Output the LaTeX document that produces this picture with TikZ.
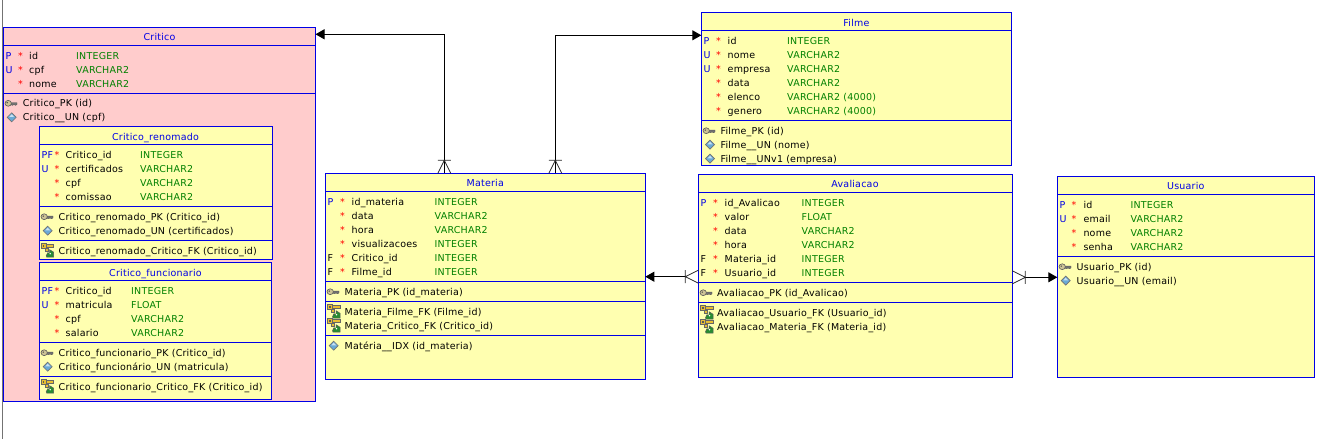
\documentclass[tikz,border=0pt]{standalone}
\usepackage{fontspec}
\setmainfont[LetterSpace=2.3]{DejaVu Sans}
\usetikzlibrary{arrows.meta}
\definecolor{erblue}{RGB}{0,0,230}
\definecolor{ergreen}{RGB}{0,128,0}
\definecolor{eryellow}{RGB}{255,255,176}
\definecolor{erpink}{RGB}{255,204,204}
\definecolor{ergold}{RGB}{232,190,50}
\definecolor{erkey}{RGB}{205,195,150}
\definecolor{erdiamond}{RGB}{105,170,215}
\definecolor{erleaf}{RGB}{40,140,50}
\newcommand{\bl}[1]{\textcolor{erblue}{#1}}
\tikzset{
	tablebox/.style={draw=erblue,line width=1pt,rectangle,anchor=north west,inner sep=0pt,outer sep=0pt,fill=eryellow},
	divider/.style={draw=erblue,line width=1pt},
	rowtext/.style={anchor=base west,inner sep=0pt,yshift=-3.4pt,font=\fontsize{9.5}{11}\selectfont},
	startext/.style={rowtext,text=red},
	typetext/.style={rowtext,text=ergreen},
	tabletitle/.style={rowtext,anchor=base,text=erblue},
	relline/.style={draw=black,line width=1pt},
	reltip/.style={-{Triangle[length=9pt,width=10pt]}},
	crowfoot/.pic={
		\draw[line width=.8pt,black!85] (-6.5,-13) -- (6.5,-13) (0,-13) -- (-6.5,0) (0,-13) -- (6.5,0);
	},
	pkicon/.pic={
		\filldraw[draw=black!65,fill=black!55,line width=.4pt] (-1.5,-.6) -- (6,-.6) -- (6,1.2) -- (4.5,2) -- (3,1.2) -- (1.5,2) -- (0,1.4) -- (-1.5,1.6) -- cycle;
		\filldraw[draw=black!65,fill=erkey,line width=.6pt] (-2.8,0) ellipse (3.2 and 2.9);
		\fill[black!70] (-3.8,-.6) circle (.8);
	},
	uqicon/.pic={
		\filldraw[draw=black!55,fill=erdiamond,line width=.7pt] (-4.5,0) -- (0,-4.5) -- (4.5,0) -- (0,4.5) -- cycle;
		\fill[white,opacity=.65] (-2.4,-.4) -- (0,-3) -- (2.4,-.4) -- cycle;
	},
	fkicon/.pic={
		\filldraw[draw=black!60,fill=ergold,line width=.6pt] (-6.5,-7) rectangle (-1.5,-2.5);
		\fill[black!65] (-5,-5.5) rectangle (-3.4,-4);
		\filldraw[draw=black!60,fill=ergold,line width=.6pt] (-1.5,-6) -- (6,-6) -- (6,-3.5) -- (-1.5,-3.5) -- cycle;
		\filldraw[draw=black!60,fill=ergold,line width=.6pt] (-2.5,-2.5) rectangle (.5,1);
		\filldraw[draw=black!65,fill=erleaf,line width=.5pt] (-1.5,5) -- (0,2) -- (2,2.5) -- (2,-1) -- (6,1.5) -- (6,6.5) -- (-1,6.5) -- cycle;
		\fill[white] (2.5,3) circle (.8);
	},
}
\begin{document}
\begin{tikzpicture}[x=1pt,y=-1pt]
	\useasboundingbox (0,0) rectangle (1322,439);
	\coordinate (marginTop) at (2.3,0);
	\coordinate (marginBottom) at (2.3,439);
	\draw[black!55,line width=1pt] (marginTop) -- (marginBottom);

	% CRITICO
	\node[tablebox,fill=erpink,minimum width=312pt,minimum height=374pt] (critico) at (3.5,27.3) {};
	\foreach \y in {45.3,93.3} {
		\draw[divider] (critico.west |- 0,\y) -- (critico.east |- 0,\y);
	}
	\node[tabletitle] (criticoTitle) at (159.5,37.4) {Critico};
	\foreach \flag/\colname/\coltype [count=\i from 0] in {\bl{P}/id/INTEGER,\bl{U}/cpf/VARCHAR2,/nome/VARCHAR2} {
		\node[rowtext] (criticoFlag\i) at (5.5,55.7+14*\i) {\flag};
		\node[startext] (criticoStar\i) at (18,55.7+14*\i) {*};
		\node[rowtext] (criticoName\i) at (29,55.7+14*\i) {\colname};
		\node[typetext] (criticoType\i) at (76,55.7+14*\i) {\coltype};
	}
	\pic at (11,103.3) {pkicon};
	\node[rowtext] (criticoPk) at (22.7,103.3) {Critico\_PK (id)};
	\pic at (11.7,117.3) {uqicon};
	\node[rowtext] (criticoUn) at (22.7,117.3) {Critico\_\_UN (cpf)};

	% CRITICO RENOMADO
	\node[tablebox,minimum width=233.4pt,minimum height=132.6pt] (renomado) at (39.3,126.7) {};
	\foreach \y in {144.7,206.3,240.3} {
		\draw[divider] (renomado.west |- 0,\y) -- (renomado.east |- 0,\y);
	}
	\node[tabletitle] (renomadoTitle) at (155.5,136.7) {Critico\_renomado};
	\foreach \flag/\colname/\coltype [count=\i from 0] in {\bl{PF}/Critico\_id/INTEGER,\bl{U}/certificados/VARCHAR2,/cpf/VARCHAR2,/comissao/VARCHAR2} {
		\node[rowtext] (renomadoFlag\i) at (41.5,154.7+14*\i) {\flag};
		\node[startext] (renomadoStar\i) at (54.5,154.7+14*\i) {*};
		\node[rowtext] (renomadoName\i) at (65.5,154.7+14*\i) {\colname};
		\node[typetext] (renomadoType\i) at (140,154.7+14*\i) {\coltype};
	}
	\pic at (47,216.7) {pkicon};
	\node[rowtext] (renomadoPk) at (58.5,216.7) {Critico\_renomado\_PK (Critico\_id)};
	\pic at (47.7,230.7) {uqicon};
	\node[rowtext] (renomadoUn) at (58.5,230.7) {Critico\_renomado\_UN (certificados)};
	\pic at (47.7,250.7) {fkicon};
	\node[rowtext] (renomadoFk) at (58.5,250.7) {Critico\_renomado\_Critico\_FK (Critico\_id)};

	% CRITICO FUNCIONARIO
	\node[tablebox,minimum width=232.4pt,minimum height=137pt] (funcionario) at (39.3,262.3) {};
	\foreach \y in {280.3,342.3,376.3} {
		\draw[divider] (funcionario.west |- 0,\y) -- (funcionario.east |- 0,\y);
	}
	\node[tabletitle] (funcionarioTitle) at (155.5,272.7) {Critico\_funcionario};
	\foreach \flag/\colname/\coltype [count=\i from 0] in {\bl{PF}/Critico\_id/INTEGER,\bl{U}/matricula/FLOAT,/cpf/VARCHAR2,/salario/VARCHAR2} {
		\node[rowtext] (funcionarioFlag\i) at (41.5,290.7+14*\i) {\flag};
		\node[startext] (funcionarioStar\i) at (54.5,290.7+14*\i) {*};
		\node[rowtext] (funcionarioName\i) at (65.5,290.7+14*\i) {\colname};
		\node[typetext] (funcionarioType\i) at (131,290.7+14*\i) {\coltype};
	}
	\pic at (47,352.7) {pkicon};
	\node[rowtext] (funcionarioPk) at (58.5,352.7) {Critico\_funcionario\_PK (Critico\_id)};
	\pic at (47.7,366.7) {uqicon};
	\node[rowtext] (funcionarioUn) at (58.5,366.7) {Critico\_funcionário\_UN (matricula)};
	\pic at (47.7,386.7) {fkicon};
	\node[rowtext] (funcionarioFk) at (58.5,386.7) {Critico\_funcionario\_Critico\_FK (Critico\_id)};

	% MATERIA
	\node[tablebox,minimum width=320pt,minimum height=206pt] (materia) at (325.3,173.3) {};
	\foreach \y in {191.3,281.3,301.3,335.3} {
		\draw[divider] (materia.west |- 0,\y) -- (materia.east |- 0,\y);
	}
	\node[tabletitle] (materiaTitle) at (485.3,183.5) {Materia};
	\foreach \flag/\colname/\coltype [count=\i from 0] in {\bl{P}/id\_materia/INTEGER,/data/VARCHAR2,/hora/VARCHAR2,/visualizacoes/INTEGER,F/Critico\_id/INTEGER,F/Filme\_id/INTEGER} {
		\node[rowtext] (materiaFlag\i) at (327.5,201.7+14*\i) {\flag};
		\node[startext] (materiaStar\i) at (340,201.7+14*\i) {*};
		\node[rowtext] (materiaName\i) at (351.5,201.7+14*\i) {\colname};
		\node[typetext] (materiaType\i) at (434.5,201.7+14*\i) {\coltype};
	}
	\pic at (333,291.7) {pkicon};
	\node[rowtext] (materiaPk) at (344.5,291.7) {Materia\_PK (id\_materia)};
	\pic at (334,311.7) {fkicon};
	\node[rowtext] (materiaFkFilme) at (344.5,311.7) {Materia\_Filme\_FK (Filme\_id)};
	\pic at (334,325.7) {fkicon};
	\node[rowtext] (materiaFkCritico) at (344.5,325.7) {Materia\_Critico\_FK (Critico\_id)};
	\pic at (333.7,345.7) {uqicon};
	\node[rowtext] (materiaIdx) at (344.5,345.7) {Matéria\_\_IDX (id\_materia)};

	% AVALIACAO
	\node[tablebox,minimum width=314pt,minimum height=203pt] (avaliacao) at (698.3,174.3) {};
	\foreach \y in {192.3,282.3,302.3} {
		\draw[divider] (avaliacao.west |- 0,\y) -- (avaliacao.east |- 0,\y);
	}
	\node[tabletitle] (avaliacaoTitle) at (855,184.5) {Avaliacao};
	\foreach \flag/\colname/\coltype [count=\i from 0] in {\bl{P}/id\_Avalicao/INTEGER,/valor/FLOAT,/data/VARCHAR2,/hora/VARCHAR2,F/Materia\_id/INTEGER,F/Usuario\_id/INTEGER} {
		\node[rowtext] (avaliacaoFlag\i) at (700.5,202.7+14*\i) {\flag};
		\node[startext] (avaliacaoStar\i) at (713,202.7+14*\i) {*};
		\node[rowtext] (avaliacaoName\i) at (724.5,202.7+14*\i) {\colname};
		\node[typetext] (avaliacaoType\i) at (801.5,202.7+14*\i) {\coltype};
	}
	\pic at (706,292.7) {pkicon};
	\node[rowtext] (avaliacaoPk) at (717,292.7) {Avaliacao\_PK (id\_Avalicao)};
	\pic at (707,312.7) {fkicon};
	\node[rowtext] (avaliacaoFkUsuario) at (717,312.7) {Avaliacao\_Usuario\_FK (Usuario\_id)};
	\pic at (707,326.7) {fkicon};
	\node[rowtext] (avaliacaoFkMateria) at (717,326.7) {Avaliacao\_Materia\_FK (Materia\_id)};

	% USUARIO
	\node[tablebox,minimum width=257pt,minimum height=201pt] (usuario) at (1057.3,176.3) {};
	\foreach \y in {194.3,256.3} {
		\draw[divider] (usuario.west |- 0,\y) -- (usuario.east |- 0,\y);
	}
	\node[tabletitle] (usuarioTitle) at (1185.8,186.5) {Usuario};
	\foreach \flag/\colname/\coltype [count=\i from 0] in {\bl{P}/id/INTEGER,\bl{U}/email/VARCHAR2,/nome/VARCHAR2,/senha/VARCHAR2} {
		\node[rowtext] (usuarioFlag\i) at (1059.5,204.7+14*\i) {\flag};
		\node[startext] (usuarioStar\i) at (1071.5,204.7+14*\i) {*};
		\node[rowtext] (usuarioName\i) at (1083.3,204.7+14*\i) {\colname};
		\node[typetext] (usuarioType\i) at (1130.3,204.7+14*\i) {\coltype};
	}
	\pic at (1065,266.7) {pkicon};
	\node[rowtext] (usuarioPk) at (1076.5,266.7) {Usuario\_PK (id)};
	\pic at (1065.7,280.7) {uqicon};
	\node[rowtext] (usuarioUn) at (1076.5,280.7) {Usuario\_\_UN (email)};

	% FILME
	\node[tablebox,minimum width=310.4pt,minimum height=153pt] (filme) at (701.3,12.3) {};
	\foreach \y in {30.3,120.3} {
		\draw[divider] (filme.west |- 0,\y) -- (filme.east |- 0,\y);
	}
	\node[tabletitle] (filmeTitle) at (856.5,22.7) {Filme};
	\foreach \flag/\colname/\coltype [count=\i from 0] in {\bl{P}/id/INTEGER,\bl{U}/nome/VARCHAR2,\bl{U}/empresa/VARCHAR2,/data/VARCHAR2,/elenco/VARCHAR2 (4000),/genero/VARCHAR2 (4000)} {
		\node[rowtext] (filmeFlag\i) at (703.5,40.7+14*\i) {\flag};
		\node[startext] (filmeStar\i) at (716,40.7+14*\i) {*};
		\node[rowtext] (filmeName\i) at (727.5,40.7+14*\i) {\colname};
		\node[typetext] (filmeType\i) at (787,40.7+14*\i) {\coltype};
	}
	\pic at (709,130.7) {pkicon};
	\node[rowtext] (filmePk) at (720.3,130.7) {Filme\_PK (id)};
	\pic at (710,144.7) {uqicon};
	\node[rowtext] (filmeUn) at (720.3,144.7) {Filme\_\_UN (nome)};
	\pic at (710,158.7) {uqicon};
	\node[rowtext] (filmeUnEmpresa) at (720.3,158.7) {Filme\_\_UNv1 (empresa)};

	% RELATIONS
	\coordinate (materiaToCritico) at (444.3,173.3);
	\coordinate (criticoEnd) at (315.5,34.3);
	\coordinate (materiaToFilme) at (555.3,173.3);
	\coordinate (filmeEnd) at (701.3,35.3);
	\coordinate (avaliacaoToMateria) at (685.3,276.7);
	\coordinate (materiaEnd) at (645.3,276.7);
	\coordinate (avaliacaoToUsuario) at (1025.3,277.3);
	\coordinate (usuarioEnd) at (1057.3,277.3);
	\draw[relline,reltip] (materiaToCritico) |- (criticoEnd);
	\draw[relline,reltip] (materiaToFilme) |- (filmeEnd);
	\draw[relline,reltip] (avaliacaoToMateria) -- (materiaEnd);
	\draw[relline,reltip] (avaliacaoToUsuario) -- (usuarioEnd);
	\pic at (materiaToCritico) {crowfoot};
	\pic at (materiaToFilme) {crowfoot};
	\pic[rotate=90] at (698.3,276.7) {crowfoot};
	\pic[rotate=-90] at (1012.3,277.3) {crowfoot};
\end{tikzpicture}
\end{document}
